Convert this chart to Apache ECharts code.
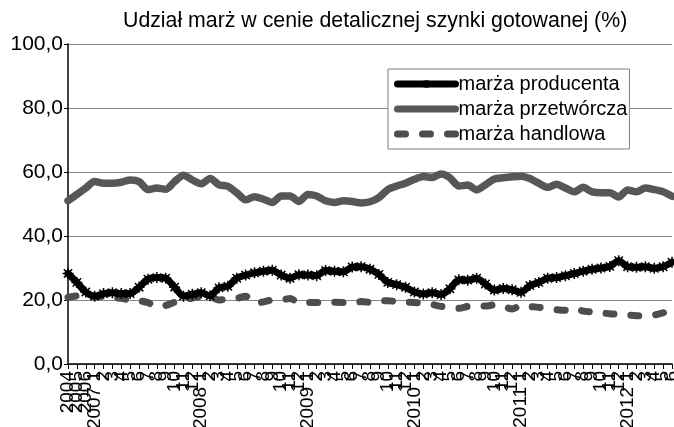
<!DOCTYPE html>
<html>
<head>
<meta charset="utf-8">
<script src="https://cdn.jsdelivr.net/npm/echarts@6/dist/echarts.min.js"></script>
<style>
html,body{margin:0;padding:0;background:#fff;}
#chart{width:674px;height:427px;}
</style>
</head>
<body>
<div id="chart"></div>
<script>
const titleText = 'Udział marż w cenie detalicznej szynki gotowanej (%)';
const seriesNames = ['marża producenta', 'marża przetwórcza', 'marża handlowa'];
const categories = [
  '2004','2005','2006',
  '2007 1','2','3','4','5','6','7','8','9','10','11','12',
  '2008 1','2','3','4','5','6','7','8','9','10','11','12',
  '2009 1','2','3','4','5','6','7','8','9','10','11','12',
  '2010 1','2','3','4','5','6','7','8','9','10','11','12',
  '2011 1','2','3','4','5','6','7','8','9','10','11','12',
  '2012 1','2','3','4','5','6'
];
const producer = [
  28.3,25.5,22.5,
  21.2,22.0,22.3,22.0,22.0,24.0,26.5,27.0,26.8,24.0,21.2,21.8,
  22.3,21.3,23.8,24.3,26.8,27.8,28.5,29.0,29.3,27.8,26.8,27.9,
  27.8,27.6,29.2,29.0,28.8,30.3,30.4,29.6,28.0,25.5,24.8,24.0,
  22.5,21.9,22.3,21.7,23.5,26.3,26.2,26.8,25.0,23.1,23.6,23.2,
  22.4,24.5,25.5,26.8,27.0,27.6,28.3,29.0,29.6,30.0,30.5,32.3,
  30.4,30.2,30.4,29.9,30.4,31.8
];
const processor = [
  51.0,53.0,55.0,
  57.0,56.5,56.5,56.8,57.5,57.0,54.5,55.0,54.6,57.0,59.0,57.5,
  56.3,58.0,56.0,55.5,53.5,51.3,52.3,51.5,50.5,52.5,52.5,50.8,
  53.0,52.5,51.0,50.5,51.0,50.8,50.3,50.7,52.0,54.5,55.6,56.5,
  57.7,58.6,58.3,59.4,58.2,55.6,55.9,54.4,56.0,57.8,58.2,58.5,
  58.7,58.0,56.5,55.2,56.2,55.0,53.8,55.2,53.8,53.5,53.5,52.2,
  54.4,53.8,55.0,54.5,53.8,52.4
];
const trade = [
  20.8,21.3,21.5,
  21.2,21.0,20.8,20.5,20.0,19.8,19.2,17.8,18.3,19.3,20.0,20.6,
  21.1,21.0,20.0,20.3,20.5,21.2,19.0,19.4,20.0,20.0,20.5,19.2,
  19.2,19.2,19.2,19.3,19.2,18.9,19.5,19.3,19.6,19.8,19.5,19.4,
  19.2,19.0,18.6,18.0,17.7,17.4,18.0,18.1,18.1,18.5,18.0,17.2,
  18.3,18.0,17.7,17.4,17.0,16.8,17.6,16.5,16.3,16.0,15.7,15.5,
  15.3,15.1,15.1,15.3,16.0,16.6
];
const yTicks = {min: 0, max: 100, step: 20};

const FONT = '"Liberation Sans", Arial, sans-serif';
const asterisk = 'path://M0,5L10,5M5,0L5,10M1.2,1.2L8.8,8.8M1.2,8.8L8.8,1.2';
const hidden = {color: 'rgba(0,0,0,0)', borderColor: 'rgba(0,0,0,0)', borderWidth: 0};

const chart = echarts.init(document.getElementById('chart'), null, {renderer: 'canvas'});
chart.setOption({
  animation: false,
  backgroundColor: '#fff',
  textStyle: {fontFamily: FONT},
  title: {
    text: titleText,
    left: 118, top: 6,
    textStyle: {fontFamily: FONT, fontSize: 21.3, fontWeight: 'normal', color: '#000'}
  },
  legend: {
    orient: 'vertical',
    left: 388, top: 69,
    padding: [5, 2, 5, 6],
    itemGap: 5,
    itemWidth: 58,
    itemHeight: 10,
    borderColor: '#808080',
    borderWidth: 1,
    backgroundColor: '#fff',
    lineStyle: {width: 7},
    textStyle: {fontFamily: FONT, fontSize: 20, color: '#000', padding: [0,0,0,-2]},
    data: [
      {name: seriesNames[0]},
      {name: seriesNames[1], itemStyle: hidden},
      {name: seriesNames[2], itemStyle: hidden}
    ]
  },
  grid: {left: 68, right: 2, top: 44, bottom: 63, containLabel: false, outerBoundsMode: 'none'},
  xAxis: {
    type: 'category',
    data: categories,
    boundaryGap: false,
    axisLine: {lineStyle: {color: '#000', width: 1.5}},
    axisTick: {show: true, interval: 0, length: 5, lineStyle: {color: '#000'}},
    axisLabel: {interval: 0, rotate: 90, fontSize: 19, color: '#000', margin: 7, fontFamily: FONT}
  },
  yAxis: {
    type: 'value',
    min: yTicks.min, max: yTicks.max, interval: yTicks.step,
    axisLine: {show: true, lineStyle: {color: '#000', width: 1.5}},
    axisTick: {show: true, length: 4, lineStyle: {color: '#000'}},
    axisLabel: {fontSize: 21, color: '#000', margin: 5, fontFamily: FONT,
      formatter: v => v.toFixed(1).replace('.', ',')},
    splitLine: {lineStyle: {color: '#868686', width: 1.2}}
  },
  series: [
    {
      name: seriesNames[0], type: 'line', data: producer, smooth: 0.25,
      symbol: asterisk, symbolSize: 11, showSymbol: true,
      itemStyle: {color: '#000', borderColor: '#000', borderWidth: 1.5},
      lineStyle: {color: '#000', width: 7, cap: 'round', join: 'round'},
      z: 4
    },
    {
      name: seriesNames[1], type: 'line', data: processor, smooth: 0.25,
      symbol: 'none', showSymbol: false,
      itemStyle: {color: '#575757'},
      lineStyle: {color: '#575757', width: 7.5, cap: 'round', join: 'round'},
      z: 3
    },
    {
      name: seriesNames[2], type: 'line', data: trade, smooth: 0.25,
      symbol: 'none', showSymbol: false,
      itemStyle: {color: '#4d4d4d'},
      lineStyle: {color: '#4d4d4d', width: 7, type: [8, 17], cap: 'round', join: 'round'},
      z: 2
    }
  ]
});
</script>
</body>
</html>
